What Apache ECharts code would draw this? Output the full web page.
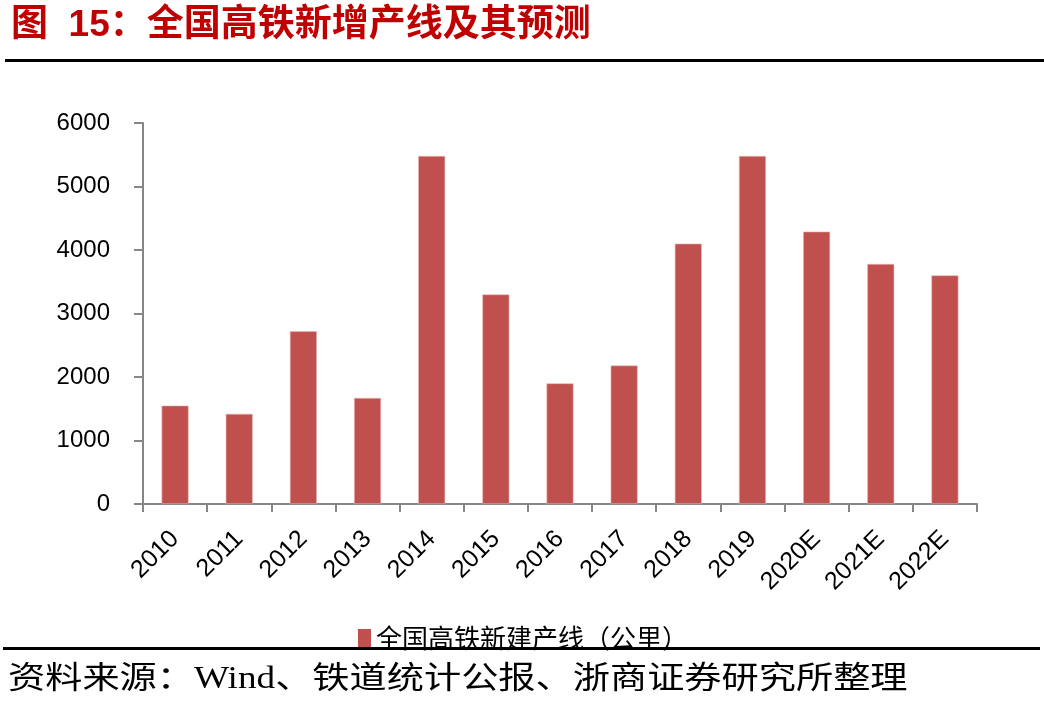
<!DOCTYPE html>
<html>
<head>
<meta charset="utf-8">
<script src="https://cdn.jsdelivr.net/npm/echarts@6/dist/echarts.min.js"></script>
<style>
html,body{margin:0;padding:0;background:#fff;}
#main{width:1044px;height:705px;}
</style>
</head>
<body>
<div id="main"></div>
<script>
const categories = ['2010','2011','2012','2013','2014','2015','2016','2017','2018','2019','2020E','2021E','2022E'];
const values = [1550, 1420, 2720, 1670, 5480, 3300, 1900, 2180, 4100, 5480, 4290, 3780, 3600];
const seriesName = '全国高铁新建产线（公里）';
const titleText = '图  15：全国高铁新增产线及其预测';
const sourceText = '资料来源：Wind、铁道统计公报、浙商证券研究所整理';

const chart = echarts.init(document.getElementById('main'));
chart.setOption({
  backgroundColor: '#fff',
  animation: false,
  title: {
    text: titleText,
    left: 6, top: 2,
    textStyle: {
      color: '#C00000', fontSize: 37, fontWeight: 'bold',
      fontFamily: 'Liberation Sans, Arial, Noto Sans CJK SC'
    }
  },
  legend: {
    data: [seriesName],
    left: 353, top: 620,
    itemWidth: 13, itemHeight: 18, itemGap: 6,
    icon: 'rect',
    itemStyle: { borderWidth: 0 },
    textStyle: { fontSize: 26, color: '#000', fontFamily: 'Noto Sans CJK SC' }
  },
  grid: { left: 143, right: 67, top: 123, bottom: 201 },
  xAxis: {
    type: 'category',
    data: categories,
    boundaryGap: true,
    axisLine: { lineStyle: { color: '#868686', width: 2 } },
    axisTick: { show: true, length: 8, alignWithLabel: false, lineStyle: { color: '#868686', width: 2 } },
    axisLabel: {
      rotate: 45, color: '#000', fontSize: 25, margin: 31,
      fontFamily: 'Liberation Sans, Arial'
    }
  },
  yAxis: {
    type: 'value',
    min: 0, max: 6000, interval: 1000,
    axisLine: { show: true, lineStyle: { color: '#868686', width: 2 } },
    axisTick: { show: true, length: 9, lineStyle: { color: '#868686', width: 2 } },
    splitLine: { show: false },
    axisLabel: { color: '#000', fontSize: 24, margin: 33, fontFamily: 'Liberation Sans, Arial',
      formatter: function (v) { return String(v); } }
  },
  series: [{
    name: seriesName,
    type: 'bar',
    data: values,
    barWidth: 27,
    itemStyle: { color: '#C0504D', borderColor: '#E6B9B8', borderWidth: 0.6 }
  }],
  graphic: [
    { type: 'rect', shape: { x: 5, y: 59, width: 1039, height: 3 }, style: { fill: '#000' } },
    { type: 'rect', shape: { x: 3, y: 647, width: 1037, height: 3 }, style: { fill: '#000' }, z: 100 },
    { type: 'text', x: 8, y: 664, scaleX: 1.2,
      style: { text: sourceText, fill: '#000', fontSize: 31,
        fontFamily: 'Liberation Serif, Noto Sans CJK SC' } }
  ]
});
</script>
</body>
</html>
